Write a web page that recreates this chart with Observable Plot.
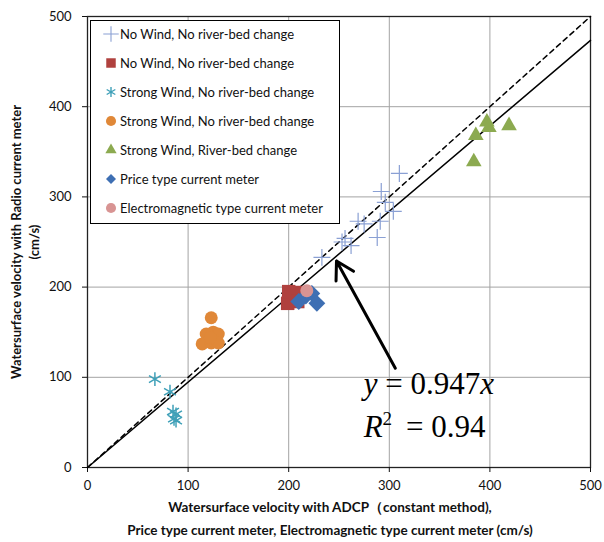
<!DOCTYPE html>
<html>
<head>
<meta charset="utf-8">
<script src="https://cdn.jsdelivr.net/npm/d3@7"></script>
<script src="https://cdn.jsdelivr.net/npm/@observablehq/plot@0.6"></script>
<style>
  body { margin: 0; background: #fff; }
  #wrap { position: relative; width: 604px; height: 542px; }
  #legend { position: absolute; left: 90px; top: 20px; width: 248px; height: 202px;
            border: 1px solid #000; background: #fff; font-family: Lato, "Open Sans", sans-serif;
            font-size: 13px; color: #111; }
  .row { position: absolute; left: 0; height: 20px; display: flex; align-items: center; white-space: nowrap; }
  .row svg { margin-left: 12px; margin-right: 1px; }
</style>
</head>
<body>
<div id="wrap"></div>
<script>
// ---------- data ----------
const xTicks = [0, 100, 200, 300, 400, 500];
const yTicks = [0, 100, 200, 300, 400, 500];

const seriesLabels = [
  "No Wind, No river-bed change",
  "No Wind, No river-bed change",
  "Strong Wind, No river-bed change",
  "Strong Wind, No river-bed change",
  "Strong Wind, River-bed change",
  "Price type current meter",
  "Electromagnetic type current meter"
];

// [ADCP velocity, radio current meter velocity] (cm/s)
const noWindCross = [[233,233],[253,250],[256,254],[262,246],[269,273],[275,270],[288,255],[291,273],[292,306],[296,294],[304,284],[310,326]];
const noWindSquare = [[199,182],[200,195],[207,194],[209,184]];
const strongWindAsterisk = [[67,98],[82,84],[85,62],[88,59],[86,54],[88,52]];
const strongWindCircle = [[123,166],[118,148],[125,150],[130,148],[114,137],[123,138],[130,138],[122,144]];
const riverBedTriangle = [[397,383],[399,377],[386,368],[419,379],[384,339]];
const priceDiamond = [[210,184],[217,190],[223,193],[228,182]];
const electroCircle = [[218,196]];

const lineX = [0, 500];
const fitSlope = 0.947;
const arrowData = [{x1: 306, y1: 110, x2: 247.5, y2: 229}];
const eqText = ["y = 0.947x", "R\u00b2 = 0.94"];
const eqPos = [[274.5, 92], [274.5, 44.5]];

const xLabel = "Watersurface velocity with ADCP\uff08constant method),\nPrice type current meter, Electromagnetic type current meter (cm/s)";
const yLabel = "Watersurface velocity with Radio current meter\n(cm/s)";

// ---------- styles ----------
const colors = ["#8aa0d4", "#b0413e", "#3fa0b8", "#e08838", "#8caa50", "#3e6fb3", "#d89493"];

const X = d => d[0], Y = d => d[1];

const chart = Plot.plot({
  width: 604, height: 542,
  marginLeft: 87, marginRight: 14, marginTop: 16, marginBottom: 75,
  style: {fontFamily: "Lato, 'Open Sans', sans-serif", fontSize: "13px", color: "#111", background: "#fff"},
  x: {domain: [0, 500]},
  y: {domain: [0, 500]},
  marks: [
    Plot.gridX(xTicks.slice(1, -1), {stroke: "#a3a3a3", strokeOpacity: 1}),
    Plot.gridY(yTicks.slice(1, -1), {stroke: "#a3a3a3", strokeOpacity: 1}),
    Plot.frame({stroke: "#222", strokeWidth: 1.3}),
    Plot.axisX({ticks: xTicks, tickSize: 5, tickPadding: 8, label: null, fontSize: 13}),
    Plot.axisY({ticks: yTicks, tickSize: 5, tickPadding: 11, label: null, fontSize: 13}),
    Plot.line(lineX.map(x => [x, x]), {x: X, y: Y, stroke: "#000", strokeWidth: 1.5, strokeDasharray: "5,4"}),
    Plot.line(lineX.map(x => [x, fitSlope * x]), {x: X, y: Y, stroke: "#000", strokeWidth: 1.5}),
    Plot.dot(noWindCross, {x: X, y: Y, symbol: "plus", stroke: colors[0], r: 5.5, strokeWidth: 1.2}),
    Plot.dot(noWindSquare, {x: X, y: Y, symbol: "square", fill: colors[1], r: 7.6}),
    Plot.dot(strongWindAsterisk, {x: X, y: Y, symbol: "asterisk", stroke: colors[2], r: 6.5, strokeWidth: 1.5}),
    Plot.dot(strongWindCircle, {x: X, y: Y, symbol: "circle", fill: colors[3], r: 6.5}),
    Plot.dot(riverBedTriangle, {x: X, y: Y, symbol: "triangle", fill: colors[4], r: 5.8}),
    Plot.dot(priceDiamond, {x: X, y: Y, symbol: "diamond2", fill: colors[5], stroke: "none", r: 7.6}),
    Plot.dot(electroCircle, {x: X, y: Y, symbol: "circle", fill: colors[6], r: 6.5}),
    Plot.arrow(arrowData, {x1: "x1", y1: "y1", x2: "x2", y2: "y2", stroke: "#000", strokeWidth: 3, headLength: 10, headAngle: 60}),
    Plot.text(eqText, {x: (d, i) => eqPos[i][0], y: (d, i) => eqPos[i][1], text: d => d, textAnchor: "start",
      fontFamily: "'Liberation Serif', 'Times New Roman', serif", fontSize: 31, fill: "#000"}),
    Plot.text([xLabel], {text: d => d, frameAnchor: "bottom", dx: -9, dy: 49, textAnchor: "middle", lineAnchor: "middle",
      fontWeight: "bold", fontSize: 13.5, lineHeight: 1.68, fill: "#111"}),
    Plot.text([yLabel], {text: d => d, frameAnchor: "left", rotate: -90, dx: -63, textAnchor: "middle", lineAnchor: "middle",
      fontWeight: "bold", fontSize: 13, lineHeight: 1.38, fill: "#111"})
  ]
});

// italicise variables in the equation text
chart.querySelectorAll("text").forEach(t => {
  let parts = null;
  if (t.textContent === eqText[0]) parts = [["y", "i"], [" = 0.947", ""], ["x", "i"]];
  else if (t.textContent === eqText[1]) parts = [["R", "i"], ["2", "s"], [" = 0.94", ""]];
  if (!parts) return;
  t.textContent = "";
  parts.forEach(([s, k]) => {
    const ts = document.createElementNS("http://www.w3.org/2000/svg", "tspan");
    ts.textContent = s;
    if (k === "i") ts.setAttribute("font-style", "italic");
    if (k === "s") { ts.setAttribute("font-size", "19"); ts.setAttribute("dy", "-12"); }
    t.appendChild(ts);
    if (k === "s") {
      const back = document.createElementNS("http://www.w3.org/2000/svg", "tspan");
      back.setAttribute("dy", "12");
      back.textContent = "\u2009";
      t.appendChild(back);
    }
  });
});

const wrap = document.getElementById("wrap");
wrap.appendChild(chart);

// ---------- legend ----------
const legendSymbols = [
  {type: d3.symbolPlus, size: 80, stroke: colors[0], fill: "none", sw: 1.1},
  {type: d3.symbolSquare, size: 90, fill: colors[1]},
  {type: d3.symbolAsterisk, size: 70, stroke: colors[2], fill: "none", sw: 1.4},
  {type: d3.symbolCircle, size: 80, fill: colors[3]},
  {type: d3.symbolTriangle, size: 55, fill: colors[4]},
  {type: d3.symbolDiamond2, size: 64, fill: colors[5]},
  {type: d3.symbolCircle, size: 80, fill: colors[6]}
];
const legend = document.createElement("div");
legend.id = "legend";
seriesLabels.forEach((lab, i) => {
  const row = document.createElement("div");
  row.className = "row";
  row.style.top = (34.3 + 29 * i - 21 - 10) + "px";
  const s = legendSymbols[i];
  const path = d3.symbol(s.type, s.size)();
  row.innerHTML = `<svg width="16" height="16" viewBox="-8 -8 16 16"><path d="${path}" fill="${s.fill}" stroke="${s.stroke || "none"}" stroke-width="${s.sw || 0}"/></svg><span>${lab}</span>`;
  legend.appendChild(row);
});
wrap.appendChild(legend);
</script>
</body>
</html>
